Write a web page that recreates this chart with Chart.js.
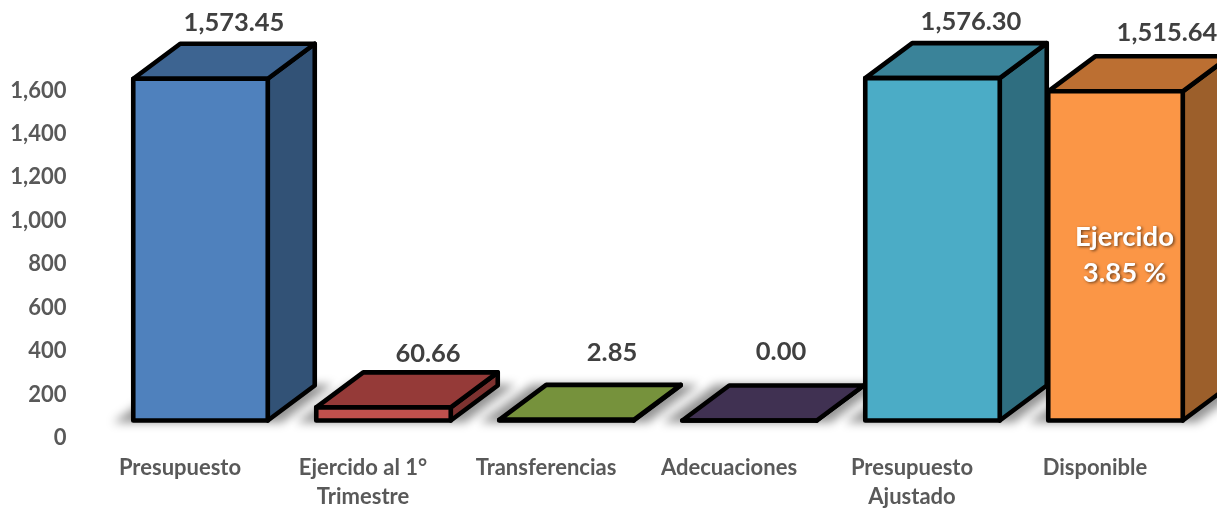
<!DOCTYPE html>
<html><head><meta charset="utf-8">
<style>html,body{margin:0;padding:0;background:#fff;overflow:hidden}canvas{display:block}</style>
<script src="https://cdn.jsdelivr.net/npm/chart.js@4"></script>
</head><body><canvas id="c" width="1217" height="508"></canvas>
<script>
const categories = ["Presupuesto", ["Ejercido al 1°","Trimestre"], "Transferencias", "Adecuaciones", ["Presupuesto","Ajustado"], "Disponible"];
const values = [1573.45, 60.66, 2.85, 0.00, 1576.30, 1515.64];
const valueLabels = ["1,573.45", "60.66", "2.85", "0.00", "1,576.30", "1,515.64"];
const yTicks = [0, 200, 400, 600, 800, 1000, 1200, 1400, 1600];
const frontColors = ["#4F81BD", "#C0504D", "#9BBB59", "#8064A2", "#4BACC6", "#FB9646"];
const topColors   = ["#3D6491", "#953A38", "#76923C", "#403152", "#3A8399", "#BC6F32"];
const sideColors  = ["#325276", "#7D3230", "#5F7530", "#3A2C4A", "#2F6E80", "#9C5F2B"];
const noteLines = ["Ejercido", "3.85 %"];

const FRONT_DX = 20.5, FRONT_DY = -17.5, DEPTH_X = 47, DEPTH_Y = -35, LINE = 4.6;
const labelDX = [54, 65, 66, 52, 59, 72];
const labelDY = [-21, -18.5, -32, -33.5, -21, -24];
const FONT = 'Lato, Carlito, Calibri, sans-serif';

function box(el){
  const p = el.getProps(['x','y','base','width'], true);
  const l = p.x - p.width/2 + FRONT_DX, r = p.x + p.width/2 + FRONT_DX;
  return {l, r, t: p.y + FRONT_DY, b: p.base + FRONT_DY};
}
function poly(ctx, pts){
  ctx.beginPath();
  pts.forEach((q,i)=> i ? ctx.lineTo(q[0],q[1]) : ctx.moveTo(q[0],q[1]));
  ctx.closePath();
}
const cube = {
  id:'cube',
  beforeDatasetsDraw(chart){
    const ctx = chart.ctx, els = chart.getDatasetMeta(0).data;
    // floor shadows
    ctx.save();
    ctx.filter = 'blur(5px)';
    ctx.fillStyle = 'rgba(0,0,0,0.42)';
    els.forEach(el=>{
      const b = box(el);
      poly(ctx, [[b.l-20,b.b+2],[b.r+14,b.b+2],[b.r+DEPTH_X+18,b.b+DEPTH_Y-1],[b.l+DEPTH_X-14,b.b+DEPTH_Y-1]]);
      ctx.fill();
    });
    ctx.restore();
    // top and side faces
    ctx.save();
    ctx.lineWidth = LINE; ctx.lineJoin = 'round'; ctx.strokeStyle = '#000';
    els.forEach((el,i)=>{
      const b = box(el);
      poly(ctx, [[b.r,b.t],[b.r+DEPTH_X,b.t+DEPTH_Y],[b.r+DEPTH_X,b.b+DEPTH_Y],[b.r,b.b]]);
      ctx.fillStyle = sideColors[i]; ctx.fill(); ctx.stroke();
      poly(ctx, [[b.l,b.t],[b.l+DEPTH_X,b.t+DEPTH_Y],[b.r+DEPTH_X,b.t+DEPTH_Y],[b.r,b.t]]);
      ctx.fillStyle = topColors[i]; ctx.fill(); ctx.stroke();
    });
    ctx.restore();
    ctx.save();
    ctx.translate(FRONT_DX, FRONT_DY);
  },
  afterDatasetsDraw(chart){
    const ctx = chart.ctx, els = chart.getDatasetMeta(0).data;
    ctx.restore();
    ctx.save();
    ctx.lineWidth = LINE; ctx.lineJoin = 'round'; ctx.strokeStyle = '#000';
    els.forEach(el=>{
      const b = box(el);
      poly(ctx, [[b.l,b.t],[b.r,b.t],[b.r,b.b],[b.l,b.b]]);
      ctx.stroke();
    });
    // value labels
    ctx.font = 'bold 25.5px '+FONT;
    ctx.fillStyle = '#404040';
    ctx.textAlign = 'center'; ctx.textBaseline = 'middle';
    els.forEach((el,i)=>{
      const b = box(el);
      ctx.fillText(valueLabels[i], el.x + labelDX[i], b.t + DEPTH_Y + labelDY[i]);
    });
    // note on the last bar
    const last = box(els[els.length-1]);
    const cx = (last.l+last.r)/2 + 9;
    const yS = chart.scales.y;
    ctx.font = 'bold 27.5px '+FONT;
    ctx.fillStyle = '#fff';
    ctx.shadowColor = 'rgba(0,0,0,0.55)'; ctx.shadowBlur = 3; ctx.shadowOffsetX = 1.5; ctx.shadowOffsetY = 1.5;
    ctx.fillText(noteLines[0], cx, yS.getPixelForValue(925));
    ctx.fillText(noteLines[1], cx, yS.getPixelForValue(760));
    ctx.restore();
  }
};

new Chart(document.getElementById('c'), {
  type:'bar',
  plugins:[cube],
  data:{labels:categories, datasets:[{
    data:values, backgroundColor:frontColors, borderWidth:0, clip:false,
    categoryPercentage:1, barPercentage:0.735
  }]},
  options:{
    responsive:false, animation:false, devicePixelRatio:1,
    layout:{padding:{top:90.5,right:30.5,left:0,bottom:0}},
    plugins:{legend:{display:false},tooltip:{enabled:false},title:{display:false}},
    scales:{
      x:{
        grid:{display:false,drawTicks:false}, border:{display:false},
        ticks:{color:'#595959',font:{family:FONT,weight:'bold',size:22,lineHeight:1.32},padding:15,maxRotation:0,autoSkip:false},
        afterFit(s){s.height=70;}
      },
      y:{
        min:0,max:1600,
        afterBuildTicks(s){s.ticks=yTicks.map(v=>({value:v}));},
        grid:{display:false,drawTicks:false}, border:{display:false},
        ticks:{color:'#595959',font:{family:FONT,weight:'bold',size:22},padding:22,
          callback:v=>v.toLocaleString('en-US')},
        afterFit(s){s.width=88.5;}
      }
    }
  }
});
</script></body></html>
